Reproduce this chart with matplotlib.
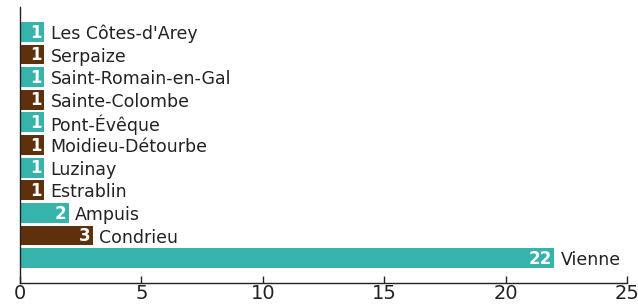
import matplotlib
matplotlib.use('Agg')
import matplotlib.pyplot as plt

# communes and counts (bottom to top)
communes = ['Vienne', 'Condrieu', 'Ampuis', 'Estrablin', 'Luzinay', 'Moidieu-Détourbe',
            'Pont-Évêque', 'Sainte-Colombe', 'Saint-Romain-en-Gal', 'Serpaize', "Les Côtes-d'Arey"]
counts = [22, 3, 2, 1, 1, 1, 1, 1, 1, 1, 1]
teal = '#36b3aa'
brown = '#5e300b'
colors = [teal if i % 2 == 0 else brown for i in range(len(counts))]

plt.rcParams['font.family'] = ['DejaVu Sans']

fig = plt.figure(figsize=(6.38, 3.08), dpi=100)
ax = fig.add_axes([20/638, 1-283/308, 607/638, 276/308])

y = list(range(len(counts)))
ax.barh(y, counts, height=0.88, color=colors)

for yi, c, name in zip(y, counts, communes):
    ax.annotate(str(c), (c, yi), xytext=(-2, -0.5), textcoords='offset points',
                ha='right', va='center', color='white', fontsize=12, fontweight='bold')
    ax.annotate(name, (c, yi), xytext=(4.5, -1.5), textcoords='offset points',
                ha='left', va='center', color='#222222', fontsize=12.5)

ax.set_xlim(0, 25)
ax.set_ylim(-1.1, 11.1)
ax.set_xticks([0, 5, 10, 15, 20, 25])
ax.set_yticks([])
ax.tick_params(axis='x', direction='in', length=5, width=1, labelsize=14, pad=1, colors='#222222')
for s in ['top', 'right']:
    ax.spines[s].set_visible(False)
for s in ['left', 'bottom']:
    ax.spines[s].set_color('#222222')
    ax.spines[s].set_linewidth(1)

fig.savefig('out.png', dpi=100)
